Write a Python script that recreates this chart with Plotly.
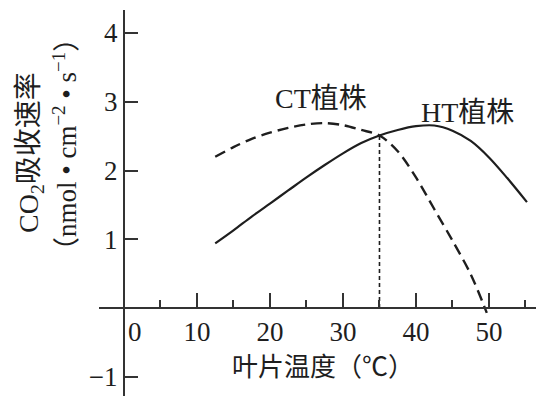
import plotly.graph_objects as go

# ---- data ----
ht_temp = [12.5, 15, 17.5, 20, 22.5, 25, 27.5, 30, 32.5, 35, 37.5, 40, 42.5, 45, 47.5, 50, 52.5, 55.2]
ht_rate = [0.94, 1.13, 1.33, 1.52, 1.71, 1.90, 2.08, 2.25, 2.40, 2.51, 2.59, 2.645, 2.655, 2.58, 2.43, 2.19, 1.89, 1.54]

ct_temp = [12.5, 15, 17.5, 20, 22.5, 25, 27.5, 30, 32.5, 35, 37.5, 40, 42.5, 45, 47.5, 49.7]
ct_rate = [2.20, 2.34, 2.46, 2.55, 2.62, 2.67, 2.69, 2.66, 2.59, 2.51, 2.28, 1.90, 1.44, 0.98, 0.49, -0.07]

cross_temp = [35, 35]
cross_rate = [0, 2.51]

x_tickvals = [10, 20, 30, 40, 50]
y_tickvals = [-1, 1, 2, 3, 4]
y_ticktext = ["−1", "1", "2", "3", "4"]

FONT = "Liberation Serif, Noto Sans CJK SC"
INK = "#1e1e1e"
W, H = 536, 396

fig = go.Figure()
fig.add_trace(go.Scatter(x=ht_temp, y=ht_rate, mode="lines",
                         line=dict(color=INK, width=2.2, shape="spline", smoothing=0.9),
                         showlegend=False))
fig.add_trace(go.Scatter(x=ct_temp, y=ct_rate, mode="lines",
                         line=dict(color=INK, width=2.4, dash="11px,6px", shape="spline", smoothing=0.9),
                         showlegend=False))
fig.add_trace(go.Scatter(x=cross_temp, y=cross_rate, mode="lines",
                         line=dict(color=INK, width=1.6, dash="4px,3px"),
                         showlegend=False))

fig.update_layout(
    width=W, height=H,
    margin=dict(l=0, r=0, t=0, b=0, pad=0, autoexpand=False),
    paper_bgcolor="white", plot_bgcolor="white",
    font=dict(family=FONT, color=INK),
    xaxis=dict(
        domain=[99 / W, 1], range=[-3.42, 56.44],
        anchor="free", position=88 / H, automargin=False,
        showline=True, linecolor="#333", linewidth=2,
        showgrid=False, zeroline=False,
        ticks="inside", ticklen=14, tickwidth=2, tickcolor="#333",
        tickvals=x_tickvals, ticktext=[str(v) for v in x_tickvals],
        tickfont=dict(family=FONT, size=27, color=INK),
        minor=dict(tick0=5, dtick=10, ticks="inside", ticklen=7, tickwidth=2, tickcolor="#333"),
    ),
    yaxis=dict(
        domain=[0, 386 / H], range=[-1.28, 4.335],
        anchor="free", position=124 / W, automargin=False,
        showline=True, linecolor="#333", linewidth=2,
        showgrid=False, zeroline=False,
        ticks="inside", ticklen=13, tickwidth=2, tickcolor="#333",
        tickvals=y_tickvals, ticktext=y_ticktext,
        tickfont=dict(family=FONT, size=27, color=INK),
    ),
)

ann = [
    dict(x=0, y=0, xref="x", yref="y", text="0", showarrow=False,
         xanchor="left", yanchor="middle", xshift=2, yshift=-24,
         font=dict(family=FONT, size=27, color=INK)),
    dict(x=27.0, y=3.05, xref="x", yref="y", text="CT植株", showarrow=False,
         xanchor="center", yanchor="middle", font=dict(family=FONT, size=28, color=INK)),
    dict(x=47.0, y=2.85, xref="x", yref="y", text="HT植株", showarrow=False,
         xanchor="center", yanchor="middle", font=dict(family=FONT, size=28, color=INK)),
    dict(x=323 / W, y=(H - 367) / H, xref="paper", yref="paper", text="叶片温度（℃）",
         showarrow=False, xanchor="center", yanchor="middle",
         font=dict(family=FONT, size=26, color=INK)),
    dict(x=30 / W, y=(H - 153) / H, xref="paper", yref="paper", text="CO<sub>2</sub>吸收速率",
         showarrow=False, textangle=-90, xanchor="center", yanchor="middle",
         font=dict(family=FONT, size=28, color=INK)),
    dict(x=65 / W, y=(H - 145) / H, xref="paper", yref="paper",
         text="（nmol • cm<sup>−2</sup> • s<sup>−1</sup>）",
         showarrow=False, textangle=-90, xanchor="center", yanchor="middle",
         font=dict(family=FONT, size=27, color=INK)),
]
fig.update_layout(annotations=ann)

fig.write_html("out.html",
               config={"displayModeBar": False, "staticPlot": True},
               post_script="document.body.style.margin='0';document.body.style.overflow='hidden';")
